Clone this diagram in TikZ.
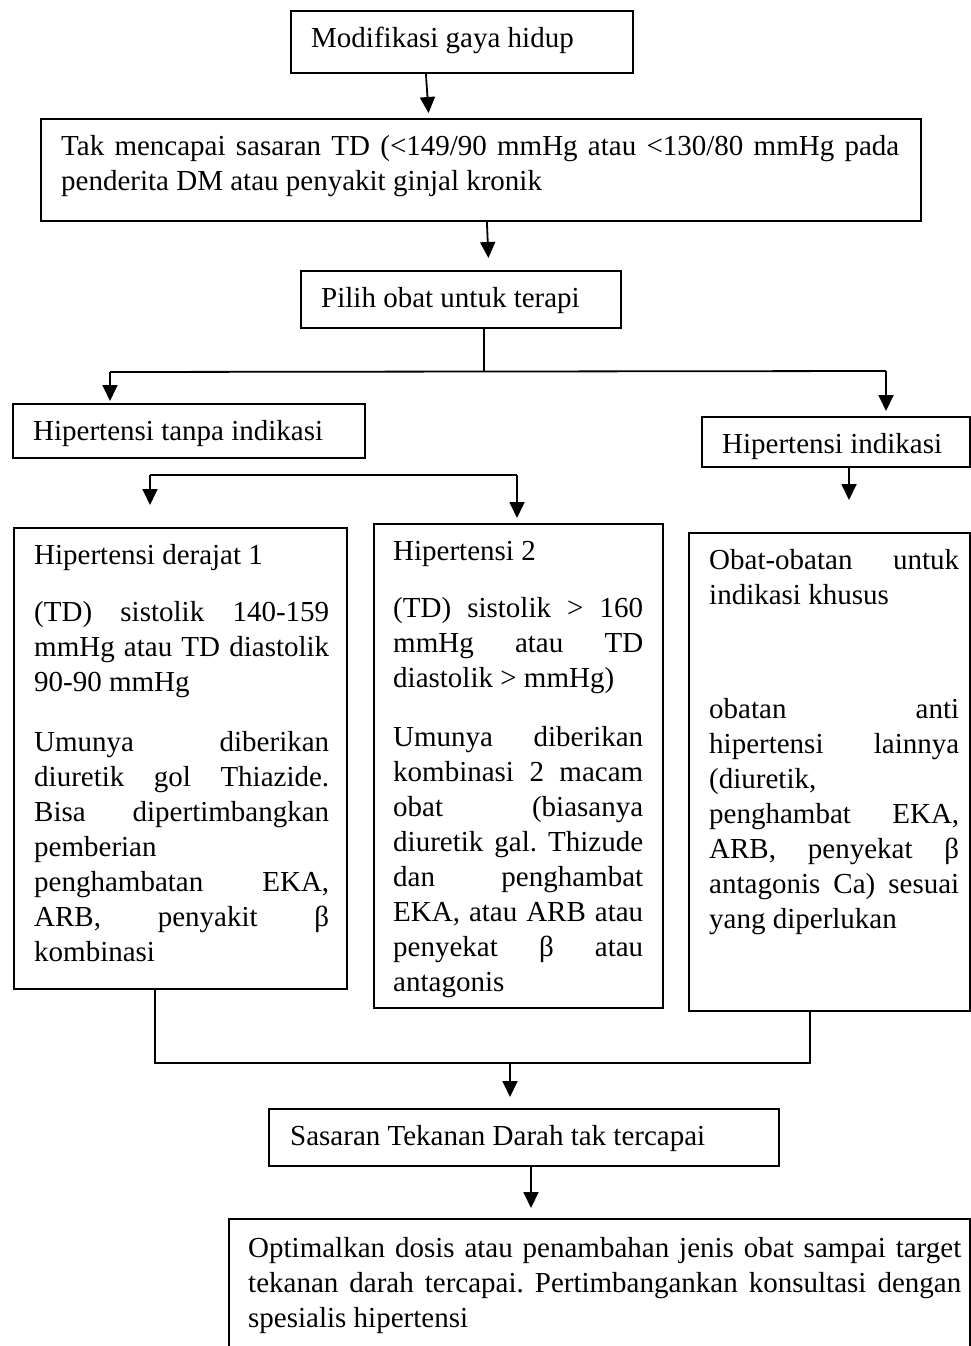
\documentclass[tikz,border=0pt]{standalone}
\usepackage{fontspec}
\setmainfont{Liberation Serif}
\usetikzlibrary{arrows.meta}
\setlength{\parindent}{0pt}
\setlength{\parskip}{0pt}
\frenchspacing
\newcommand\bodyfont[0]{\fontsize{29pt}{35pt}\selectfont}
\tikzset{
	box/.style={draw, line width=1.8pt, inner sep=0pt, anchor=north west},
	txt/.style={anchor=north west, inner sep=0pt, align=justify, font=\bodyfont},
	txtline/.style={anchor=north west, inner sep=0pt, font=\bodyfont},
	link/.style={line width=1.8pt},
	arr/.style={line width=1.8pt, -{Triangle[length=16pt,width=15pt]}}
}
\begin{document}
\begin{tikzpicture}[x=1pt, y=-1pt]
	\useasboundingbox (0,0) rectangle (971,1346);
	
	% boxes
	\node[box, minimum width=342pt, minimum height=62pt] (modif) at (290,10) {};
	\node[box, minimum width=880pt, minimum height=102pt] (tak) at (40,118) {};
	\node[box, minimum width=320pt, minimum height=57pt] (pilih) at (300,270) {};
	\node[box, minimum width=352pt, minimum height=54pt] (tanpa) at (12,403) {};
	\node[box, minimum width=268pt, minimum height=50pt] (indik) at (701,416) {};
	\node[box, minimum width=333pt, minimum height=461pt] (derajat) at (13,527) {};
	\node[box, minimum width=289pt, minimum height=484pt] (hip2) at (373,523) {};
	\node[box, minimum width=281pt, minimum height=478pt] (obat) at (688,532) {};
	\node[box, minimum width=510pt, minimum height=57pt] (sasaran) at (268,1108) {};
	\node[box, minimum width=741pt, minimum height=142pt] (optim) at (228,1218) {};
	
	% texts
	\node[txtline] (modifText) at ([shift={(21pt,-12.5pt)}]modif.north west) {\strut Modifikasi gaya hidup};
	\node[txt, text width=838pt] (takText) at ([shift={(21pt,-12.5pt)}]tak.north west) {\strut Tak mencapai sasaran TD (<149/90 mmHg atau <130/80 mmHg pada\linebreak penderita DM atau penyakit ginjal kronik};
	\node[txtline] (pilihText) at ([shift={(21pt,-12.5pt)}]pilih.north west) {\strut Pilih obat untuk terapi};
	\node[txtline] (tanpaText) at ([shift={(21pt,-12.5pt)}]tanpa.north west) {\strut Hipertensi tanpa indikasi};
	\node[txtline] (indikText) at ([shift={(21pt,-12.5pt)}]indik.north west) {\strut Hipertensi indikasi};
	\node[txt, text width=295pt] (derajatText) at ([shift={(21pt,-12.5pt)}]derajat.north west) {\strut Hipertensi derajat 1\par\vspace{22pt}
		(TD) sistolik 140-159\linebreak mmHg atau TD diastolik\linebreak 90-90 mmHg\par\vspace{25pt}
		Umunya diberikan\linebreak diuretik gol Thiazide.\linebreak Bisa dipertimbangkan\linebreak pemberian\linebreak penghambatan EKA,\linebreak ARB, penyakit β\linebreak kombinasi};
	\node[txt, text width=250pt] (hip2Text) at ([shift={(20pt,-12.5pt)}]hip2.north west) {\strut Hipertensi 2\par\vspace{22pt}
		(TD) sistolik > 160\linebreak mmHg atau TD\linebreak diastolik > mmHg)\par\vspace{24pt}
		Umunya diberikan\linebreak kombinasi 2 macam\linebreak obat (biasanya\linebreak diuretik gal. Thizude\linebreak dan penghambat\linebreak EKA, atau ARB atau\linebreak penyekat β atau\linebreak antagonis};
	\node[txt, text width=250pt] (obatText) at ([shift={(21pt,-12.5pt)}]obat.north west) {\strut Obat-obatan untuk\linebreak indikasi khusus\par\vspace{79pt}
		obatan anti\linebreak hipertensi lainnya\linebreak (diuretik,\linebreak penghambat EKA,\linebreak ARB, penyekat β\linebreak antagonis Ca) sesuai\linebreak yang diperlukan};
	\node[txtline] (sasaranText) at ([shift={(22pt,-12.5pt)}]sasaran.north west) {\strut Sasaran Tekanan Darah tak tercapai};
	\node[txt, text width=713pt] (optimText) at ([shift={(20pt,-15pt)}]optim.north west) {\strut Optimalkan dosis atau penambahan jenis obat sampai target\linebreak tekanan darah tercapai. Pertimbangankan konsultasi dengan\linebreak spesialis hipertensi};
	
	% arrows down the top
	\draw[arr, shorten >=5pt] ([xshift=-36pt]modif.south) -- ([xshift=-52pt]tak.north);
	\draw[arr, shorten >=12pt] ([xshift=6pt]tak.south) -- ([xshift=28pt]pilih.north);
	
	% split into the two groups
	\coordinate (splitM) at (484,372);
	\coordinate (splitL) at (110,372);
	\coordinate (splitR) at (886,371);
	\draw[link] (splitM |- pilih.south) -- (splitM);
	\draw[link] (splitL) -- (splitR);
	\draw[arr, shorten >=2pt] (splitL) -- (splitL |- tanpa.north);
	\draw[arr, shorten >=5pt] (splitR) -- (splitR |- indik.north);
	
	% split under hipertensi tanpa indikasi
	\coordinate (gradeL) at (150,475);
	\coordinate (gradeR) at (517,475);
	\draw[link] (gradeL) -- (gradeR);
	\draw[arr, shorten >=22pt] (gradeL) -- (gradeL |- derajat.north);
	\draw[arr, shorten >=5pt] (gradeR) -- (gradeR |- hip2.north);
	
	% indikasi khusus
	\coordinate (indikOut) at (849,466);
	\draw[arr, shorten >=32pt] (indikOut |- indik.south) -- (indikOut |- obat.north);
	
	% merge
	\coordinate (mergeL) at (155,1063);
	\coordinate (mergeR) at (810,1063);
	\coordinate (mergeM) at (510,1063);
	\draw[link] (mergeL |- derajat.south) -- (mergeL) -- (mergeR) -- (mergeR |- obat.south);
	\draw[arr, shorten >=11pt] (mergeM) -- (mergeM |- sasaran.north);
	
	% last step
	\coordinate (lastOut) at (531,1165);
	\draw[arr, shorten >=10pt] (lastOut |- sasaran.south) -- (lastOut |- optim.north);
\end{tikzpicture}
\end{document}
